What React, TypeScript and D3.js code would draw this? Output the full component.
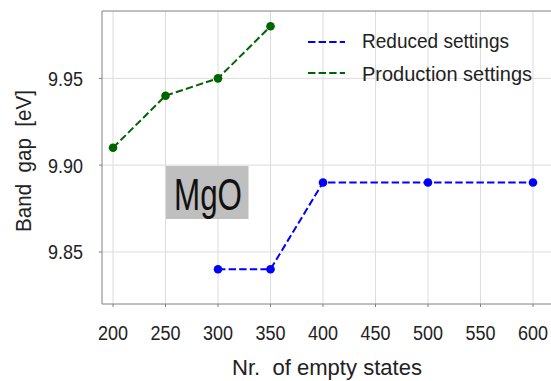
import React from "react";
import * as d3 from "d3";

// Band gap convergence vs. number of empty states (MgO)
const reducedStates = [300, 350, 400, 500, 600];
const reducedGap = [9.84, 9.84, 9.89, 9.89, 9.89];
const productionStates = [200, 250, 300, 350];
const productionGap = [9.91, 9.94, 9.95, 9.98];

const xTicks = [200, 250, 300, 350, 400, 450, 500, 550, 600];
const yTicks = [9.85, 9.9, 9.95];

const seriesNames = ["Reduced settings", "Production settings"];
const seriesColors = ["#0000ff", "#006400"];

const W = 551;
const H = 381;
const plot = { left: 102, right: 544, top: 11, bottom: 304 };
const FONT = "'Liberation Sans', Arial, sans-serif";

export default function App() {
  const x = d3.scaleLinear().domain([189.5, 610.5]).range([plot.left, plot.right]);
  const y = d3.scaleLinear().domain([9.82, 9.9888]).range([plot.bottom, plot.top]);

  const line = d3
    .line<[number, number]>()
    .x((d) => x(d[0]))
    .y((d) => y(d[1]));

  const series = [
    { pts: reducedStates.map((s, i) => [s, reducedGap[i]] as [number, number]), color: seriesColors[0] },
    { pts: productionStates.map((s, i) => [s, productionGap[i]] as [number, number]), color: seriesColors[1] },
  ];

  const spine = "#808080";
  const grid = "#dcdcdc";
  const legendWidths = [147, 170];

  return (
    <div style={{ position: "fixed", left: 0, top: 0 }}>
      <svg width={W} height={H} style={{ display: "block", background: "#fff" }}>
        <defs>
          <clipPath id="plotArea">
            <rect x={plot.left} y={plot.top} width={W - plot.left} height={plot.bottom - plot.top} />
          </clipPath>
        </defs>

        {/* grid */}
        {xTicks.map((t) => (
          <line key={"gx" + t} x1={x(t)} x2={x(t)} y1={plot.top} y2={plot.bottom} stroke={grid} strokeWidth={1} />
        ))}
        {yTicks.map((t) => (
          <line key={"gy" + t} x1={plot.left} x2={W} y1={y(t)} y2={y(t)} stroke={grid} strokeWidth={1} />
        ))}

        {/* spines (right edge runs past the canvas) */}
        <line x1={plot.left} x2={W} y1={plot.top} y2={plot.top} stroke={spine} strokeWidth={1} />
        <line x1={plot.left} x2={W} y1={plot.bottom} y2={plot.bottom} stroke={spine} strokeWidth={1} />
        <line x1={plot.left} x2={plot.left} y1={plot.top} y2={plot.bottom} stroke={spine} strokeWidth={1} />

        {/* ticks and tick labels */}
        {xTicks.map((t) => (
          <g key={"tx" + t}>
            <line x1={x(t)} x2={x(t)} y1={plot.bottom} y2={plot.bottom + 3} stroke={spine} strokeWidth={1} />
            <text
              x={x(t) - 15}
              y={340}
              fontFamily={FONT}
              fontSize={20.5}
              textLength={30}
              lengthAdjust="spacingAndGlyphs"
              fill="#222"
            >
              {t}
            </text>
          </g>
        ))}
        {yTicks.map((t) => (
          <g key={"ty" + t}>
            <line x1={plot.left - 3} x2={plot.left} y1={y(t)} y2={y(t)} stroke={spine} strokeWidth={1} />
            <text
              x={48}
              y={y(t) + 7.5}
              fontFamily={FONT}
              fontSize={20.5}
              textLength={35}
              lengthAdjust="spacingAndGlyphs"
              fill="#222"
            >
              {d3.format(".2f")(t)}
            </text>
          </g>
        ))}

        {/* axis titles */}
        <text
          x={232}
          y={375}
          fontFamily={FONT}
          fontSize={22.5}
          textLength={190}
          lengthAdjust="spacingAndGlyphs"
          fill="#222"
          style={{ whiteSpace: "pre" }}
        >
          {"Nr.  of empty states"}
        </text>
        <text
          transform={`translate(31, 232) rotate(-90)`}
          fontFamily={FONT}
          fontSize={22.5}
          textLength={142}
          lengthAdjust="spacingAndGlyphs"
          fill="#222"
          style={{ whiteSpace: "pre" }}
        >
          {"Band  gap  [eV]"}
        </text>

        {/* material label */}
        <rect x={166} y={166} width={82.5} height={53} fill="#bfbfbf" />
        <text x={174} y={210} fontFamily={FONT} fontSize={44} textLength={68} lengthAdjust="spacingAndGlyphs" fill="#111">
          MgO
        </text>

        {/* data */}
        <g clipPath="url(#plotArea)">
          {series.map((s, i) => (
            <g key={"s" + i}>
              <path d={line(s.pts) || ""} fill="none" stroke={s.color} strokeWidth={2} strokeDasharray="7.4 3.2" />
              {s.pts.map((p, j) => (
                <circle key={j} cx={x(p[0])} cy={y(p[1])} r={4.3} fill={s.color} />
              ))}
            </g>
          ))}
        </g>

        {/* legend */}
        {seriesNames.map((name, i) => (
          <g key={"lg" + i}>
            <line x1={308} x2={345} y1={42 + i * 31} y2={42 + i * 31} stroke={seriesColors[i]} strokeWidth={2} strokeDasharray="7.4 3.2" />
            <text
              x={362}
              y={48 + i * 33}
              fontFamily={FONT}
              fontSize={21}
              textLength={legendWidths[i]}
              lengthAdjust="spacingAndGlyphs"
              fill="#222"
            >
              {name}
            </text>
          </g>
        ))}
      </svg>
    </div>
  );
}
